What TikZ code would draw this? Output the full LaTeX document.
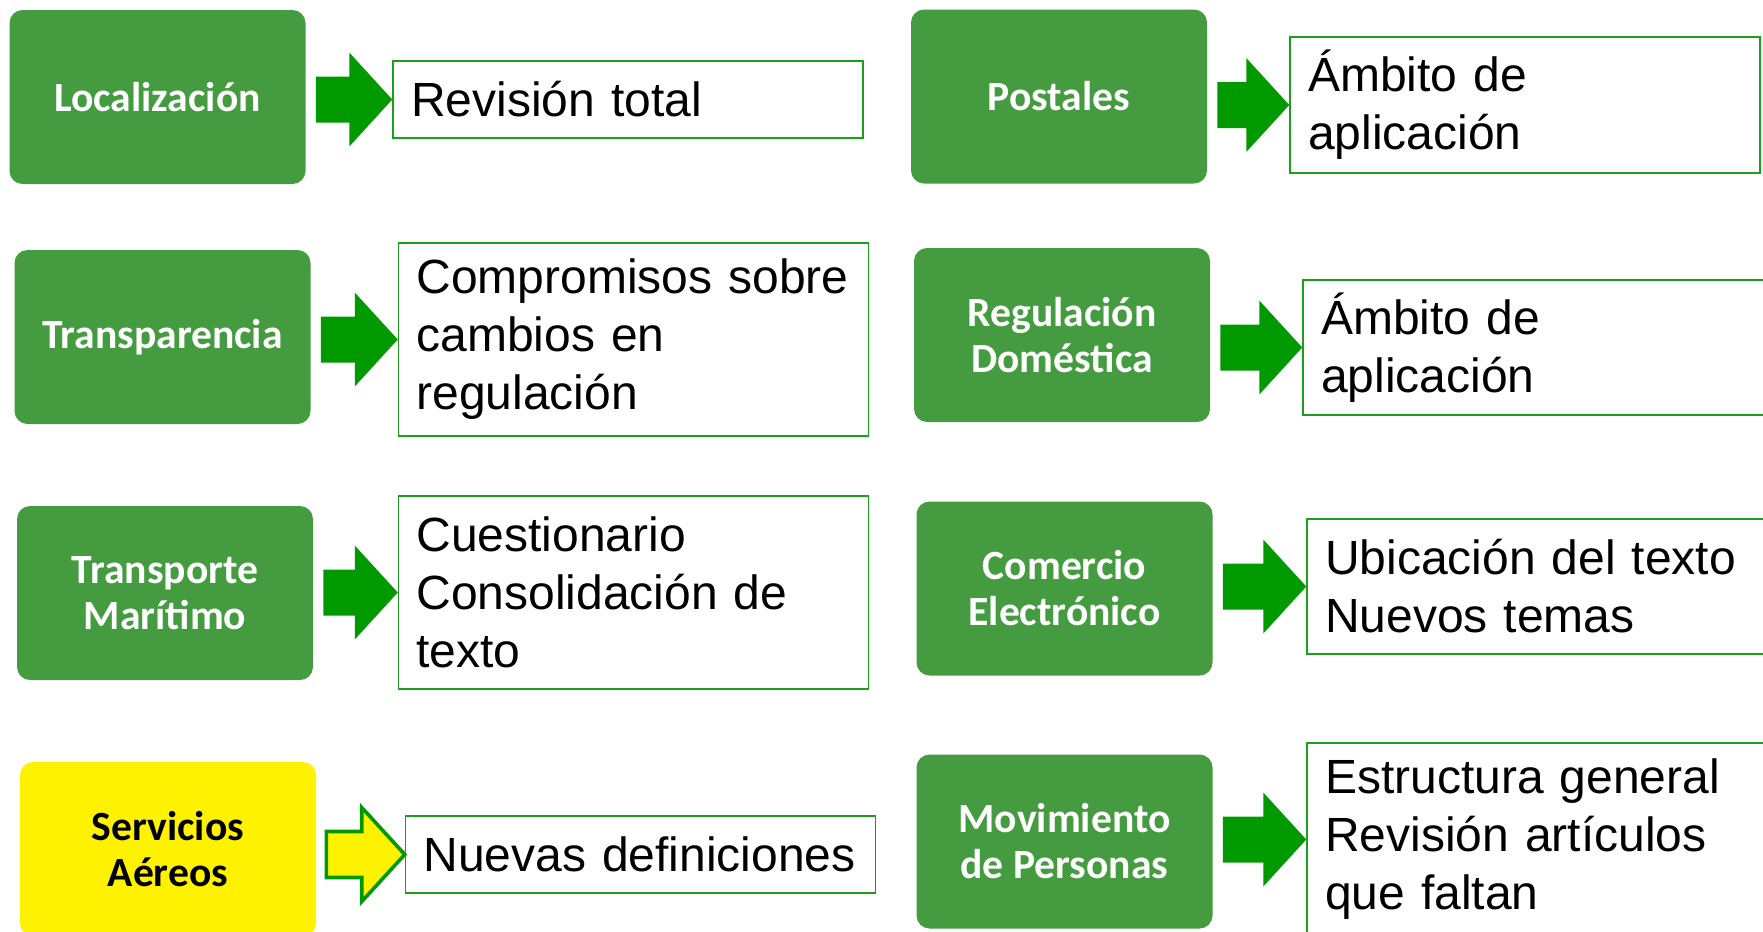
\documentclass[tikz,border=0pt]{standalone}
\usepackage{fontspec}
\setmainfont{Liberation Sans}
\newfontfamily\carlito{Carlito}
\usetikzlibrary{calc}

\definecolor{verdetema}{HTML}{459B3F}
\definecolor{verdeflecha}{HTML}{009900}
\definecolor{verdeborde}{HTML}{1AA01A}

\newcommand\singuiones{\hyphenpenalty=10000\relax}

\tikzset{
  tema/.style={rounded corners=6.5pt, fill=verdetema, text=white, align=center,
    font=\carlito\bfseries\fontsize{20.8}{23}\selectfont,
    minimum width=148pt, minimum height=87pt, inner sep=0pt},
  detalle/.style={draw=verdeborde, line width=0.75pt, fill=white, align=left,
    font=\fontsize{24}{29}\selectfont\singuiones, text width=217pt,
    inner xsep=9pt, inner ysep=0pt, minimum height=#1},
  flecha/.style={fill=verdeflecha},
  flechaamarilla/.style={fill=yellow, draw=verdeflecha, line width=1.8pt, line join=miter}
}

\newcommand\flechabloque[3][flecha]{%
  \path[#1] let \p1=(#2.east), \p2=(#3.west) in
    (\p2) -- (\x2-21.5pt,\y2+23.5pt) -- (\x2-21.5pt,\y2+11.5pt) -- (\x1+5pt,\y2+11.5pt)
    -- (\x1+5pt,\y2-11.5pt) -- (\x2-21.5pt,\y2-11.5pt) -- (\x2-21.5pt,\y2-23.5pt) -- cycle;}

\begin{document}
\begin{tikzpicture}[x=0.5pt, y=-0.5pt]
  \clip (0,0) rectangle (1763,932);

  % columna izquierda
  \node[tema] (loc) at (157.5,97) {Localizaci\'on};
  \node[tema] (tra) at (162.5,337) {Transparencia};
  \node[tema] (mar) at (165,593) {Transporte\\Mar\'itimo};
  \node[tema, fill=yellow, text=black] (aer) at (168,849) {Servicios\\A\'ereos};

  \node[detalle=38.5pt] (loc-txt) at (628,99.5) {Revisi\'on total};
  \node[detalle=96.5pt] (tra-txt) at (633.5,339.5) {Compromisos sobre\\cambios en\\regulaci\'on};
  \node[detalle=96.5pt] (mar-txt) at (633.5,592.5) {Cuestionario\\Consolidaci\'on de\\texto};
  \node[detalle=38.5pt] (aer-txt) at (640.5,854.5) {Nuevas definiciones};

  % columna derecha
  \node[tema] (pos) at (1059,96.5) {Postales};
  \node[tema] (reg) at (1062,335) {Regulaci\'on\\Dom\'estica};
  \node[tema] (com) at (1064.5,588.5) {Comercio\\Electr\'onico};
  \node[tema] (mov) at (1064.5,841.5) {Movimiento\\de Personas};

  \node[detalle=68pt] (pos-txt) at (1525,105) {\'Ambito de\\aplicaci\'on};
  \node[detalle=67.5pt] (reg-txt) at (1538,347.5) {\'Ambito de\\aplicaci\'on};
  \node[detalle=67.5pt] (com-txt) at (1542,586.5) {Ubicaci\'on del texto\\Nuevos temas};
  \node[detalle=96.5pt] (mov-txt) at (1542,839.5) {Estructura general\\Revisi\'on art\'iculos\\que faltan};

  \flechabloque{loc}{loc-txt}
  \flechabloque{tra}{tra-txt}
  \flechabloque{mar}{mar-txt}
  \flechabloque[flechaamarilla]{aer}{aer-txt}
  \flechabloque{pos}{pos-txt}
  \flechabloque{reg}{reg-txt}
  \flechabloque{com}{com-txt}
  \flechabloque{mov}{mov-txt}
\end{tikzpicture}
\end{document}
